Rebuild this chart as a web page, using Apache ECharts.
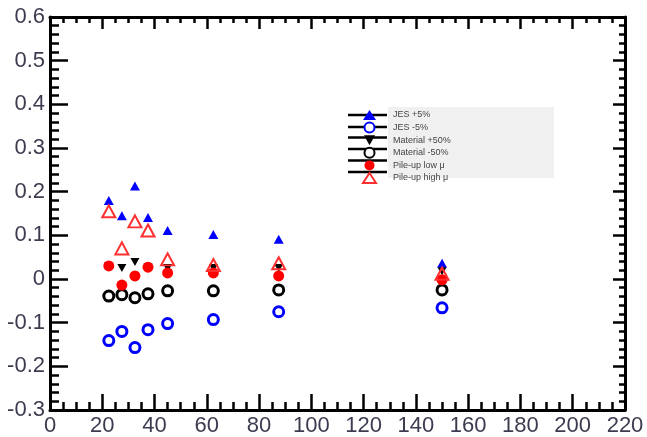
<!DOCTYPE html>
<html>
<head>
<meta charset="utf-8">
<script src="https://cdn.jsdelivr.net/npm/echarts@6/dist/echarts.min.js"></script>
<style>
html,body{margin:0;padding:0;background:#fff;}
#chart{width:647px;height:437px;}
</style>
</head>
<body>
<div id="chart"></div>
<script>
// ---- data ----
const xValues = [22.5, 27.5, 32.5, 37.5, 45, 62.5, 87.5, 150];
const seriesNames = ["JES +5%", "JES -5%", "Material +50%", "Material -50%", "Pile-up low \u03bc", "Pile-up high \u03bc"];
const blueTriUp   = [0.180, 0.145, 0.213, 0.141, 0.111, 0.102, 0.091, 0.036];
const blueOpenCir = [-0.141, -0.120, -0.157, -0.116, -0.102, -0.093, -0.075, -0.066];
const blackTriDn  = [0.030, 0.025, 0.039, 0.027, 0.025, 0.025, 0.025, 0.018];
const blackOpenCir= [-0.039, -0.036, -0.043, -0.034, -0.027, -0.027, -0.025, -0.025];
const redFilled   = [0.030, -0.014, 0.007, 0.027, 0.014, 0.014, 0.007, -0.002];
const redOpenTri  = [0.155, 0.070, 0.132, 0.111, 0.045, 0.032, 0.036, 0.012];
const xTicks = {min: 0, max: 220, interval: 20};
const yTicks = {min: -0.3, max: 0.6, interval: 0.1};

const pairs = arr => xValues.map((x, i) => [x, arr[i]]);
const labelColor = '#3c3c50';
const labelFont = {fontFamily: 'Liberation Sans', fontSize: 22, color: labelColor};

const chart = echarts.init(document.getElementById('chart'), null, {renderer: 'canvas'});

function axisCommon(extra) {
  return Object.assign({
    type: 'value',
    axisLine: {show: true, onZero: false, lineStyle: {color: '#000', width: 3}},
    splitLine: {show: false},
    minorSplitLine: {show: false}
  }, extra);
}

const option = {
  animation: false,
  backgroundColor: '#fff',
  grid: {left: 50, right: 22, top: 17, bottom: 24, containLabel: false},
  xAxis: [
    axisCommon({
      position: 'bottom', min: xTicks.min, max: xTicks.max, interval: xTicks.interval,
      axisTick: {show: true, inside: true, length: 16, lineStyle: {color: '#000', width: 2.5}},
      minorTick: {show: true, splitNumber: 4, length: 8, lineStyle: {color: '#000', width: 2.5}},
      axisLabel: Object.assign({margin: 5}, labelFont)
    }),
    axisCommon({
      position: 'top', min: xTicks.min, max: xTicks.max, interval: xTicks.interval,
      axisTick: {show: true, inside: true, length: 12, lineStyle: {color: '#000', width: 2.5}},
      minorTick: {show: true, splitNumber: 4, length: 6, lineStyle: {color: '#000', width: 2.5}},
      axisLabel: {show: false}
    })
  ],
  yAxis: [
    axisCommon({
      position: 'left', min: yTicks.min, max: yTicks.max, interval: yTicks.interval,
      axisTick: {show: true, inside: true, length: 18, lineStyle: {color: '#000', width: 2.5}},
      minorTick: {show: true, splitNumber: 5, length: 9, lineStyle: {color: '#000', width: 2.5}},
      axisLabel: Object.assign({margin: 5, formatter: v => String(Number(v.toFixed(1)))}, labelFont)
    }),
    axisCommon({
      position: 'right', min: yTicks.min, max: yTicks.max, interval: yTicks.interval,
      axisTick: {show: true, inside: true, length: 12, lineStyle: {color: '#000', width: 2.5}},
      minorTick: {show: true, splitNumber: 5, length: 6, lineStyle: {color: '#000', width: 2.5}},
      axisLabel: {show: false}
    })
  ],
  legend: {
    orient: 'vertical',
    left: 362, top: 110,
    itemWidth: 13, itemHeight: 10, itemGap: 1.6,
    padding: 0,
    textStyle: {fontFamily: 'Liberation Sans', fontSize: 9, color: '#444', padding: [0, 0, 0, 12]},
    data: seriesNames,
    z: 10
  },
  graphic: [
    {type: 'rect', left: 342, top: 107, shape: {width: 212, height: 71}, style: {fill: '#f0f0f0'}, z: 1},
    {type: 'rect', left: 342, top: 107, shape: {width: 46, height: 71}, style: {fill: '#fff'}, z: 1},
    ...[115, 127, 137.5, 149, 160.5, 172].map(y => ({
      type: 'line', shape: {x1: 348, y1: y, x2: 387, y2: y},
      style: {stroke: '#000', lineWidth: 2.5}, z: 2
    }))
  ],
  series: [
    {name: seriesNames[0], type: 'scatter', data: pairs(blueTriUp), symbol: 'triangle', symbolSize: [10, 9],
     itemStyle: {color: '#0000ff', opacity: 1}, z: 3},
    {name: seriesNames[1], type: 'scatter', data: pairs(blueOpenCir), symbol: 'circle', symbolSize: 10,
     itemStyle: {color: '#fff', borderColor: '#0000ff', borderWidth: 3, opacity: 1}, z: 3},
    {name: seriesNames[2], type: 'scatter', data: pairs(blackTriDn), symbol: 'path://M0,0 L10,0 L5,9 Z', symbolSize: [9, 8],
     itemStyle: {color: '#000', opacity: 1}, z: 4},
    {name: seriesNames[3], type: 'scatter', data: pairs(blackOpenCir), symbol: 'circle', symbolSize: 10,
     itemStyle: {color: '#fff', borderColor: '#000', borderWidth: 3, opacity: 1}, z: 4},
    {name: seriesNames[4], type: 'scatter', data: pairs(redFilled), symbol: 'circle', symbolSize: 11,
     itemStyle: {color: '#ff0000', opacity: 1}, z: 5},
    {name: seriesNames[5], type: 'scatter', data: pairs(redOpenTri), symbol: 'triangle', symbolSize: [13, 12],
     itemStyle: {color: 'rgba(255,255,255,0)', borderColor: '#ff3030', borderWidth: 2, opacity: 1}, z: 5}
  ]
};
chart.setOption(option);
</script>
</body>
</html>
